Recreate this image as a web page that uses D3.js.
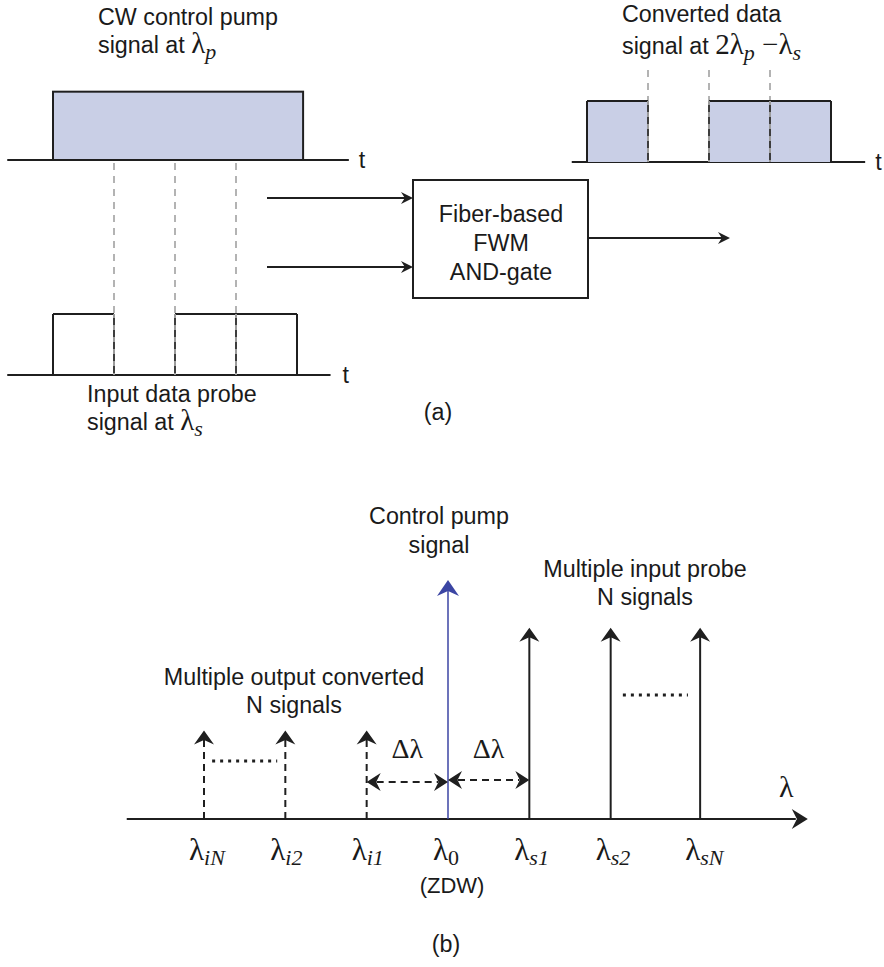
<!DOCTYPE html>
<html>
<head>
<meta charset="utf-8">
<script src="https://cdn.jsdelivr.net/npm/d3@7"></script>
<style>
  body { margin: 0; background: #fff; }
  text { font-family: "Liberation Sans", Arial, sans-serif; font-size: 23.3px; fill: #1a1a1a; }
  .math { font-family: "Liberation Serif", "DejaVu Serif", serif; }
</style>
</head>
<body>
<svg width="884" height="967"></svg>
<script>
// ---- data ----
// (a) time slots, one bit per slot
var inputBits = [1, 0, 1, 1];
var outputBits = [1, 0, 1, 1];
var pumpSpan = [0, 4.1];
var pumpLevel = 1.12;
var slotEdges = [1, 2, 3];

// (b) spectrum: channel positions (in units of delta lambda) and heights
var channelSub = ["iN", "i2", "i1", "0", "s1", "s2", "sN"];
var channelPos = [-3, -2, -1, 0, 1, 2, 3.1];
var channelAmp = [0.37, 0.37, 0.37, 1, 0.8, 0.8, 0.8];
var channelKind = ["idler", "idler", "idler", "pump", "probe", "probe", "probe"];

var svg = d3.select("svg");
var dark = "#1f1f1f";
var grey = "#9b9b9b";
var fill = "#c9cfe6";
var blue = "#3b45a3";

// arrowhead pointing along angle (deg), tip at (x,y)
function arrowHead(g, x, y, angle, color, len, half) {
  len = len || 13; half = half || 8;
  g.append("path")
    .attr("d", "M0,0 L" + (-len) + "," + (-half) + " L" + (-len * 0.68) + ",0 L" + (-len) + "," + half + " Z")
    .attr("transform", "translate(" + x + "," + y + ") rotate(" + angle + ")")
    .attr("fill", color);
}

// ---------- (a) ----------
var t = d3.scaleLinear().domain([0, 4]).range([53, 297]);
var level = d3.scaleLinear().domain([0, 1]).range([0, -61]);

function pulses(g, bits, filled) {
  var spans = [];
  bits.forEach(function(b, i) { if (b) spans.push([i, i + 1]); });
  g.selectAll("rect.p").data(spans).enter().append("rect")
    .attr("class", "p")
    .attr("x", function(d) { return t(d[0]); })
    .attr("width", function(d) { return t(d[1]) - t(d[0]); })
    .attr("y", level(1))
    .attr("height", -level(1))
    .attr("fill", filled ? fill : "none");
  spans.forEach(function(d) {
    g.append("line").attr("x1", t(d[0])).attr("x2", t(d[1]))
      .attr("y1", level(1)).attr("y2", level(1))
      .attr("stroke", dark).attr("stroke-width", 2);
    [d[0], d[1]].forEach(function(e) {
      if (slotEdges.indexOf(e) >= 0) {
        g.append("line").attr("x1", t(e)).attr("x2", t(e))
          .attr("y1", level(1)).attr("y2", 0)
          .attr("stroke", grey).attr("stroke-width", 2);
        g.append("line").attr("x1", t(e)).attr("x2", t(e))
          .attr("y1", level(1) + 4).attr("y2", 0)
          .attr("stroke", dark).attr("stroke-width", 1.5)
          .attr("stroke-dasharray", "7,5");
      } else {
        g.append("line").attr("x1", t(e)).attr("x2", t(e))
          .attr("y1", level(1)).attr("y2", 0)
          .attr("stroke", dark).attr("stroke-width", 2);
      }
    });
  });
}

function baseline(g, from, to, labelX) {
  g.append("line").attr("x1", t(from)).attr("x2", t(to))
    .attr("y1", 0).attr("y2", 0)
    .attr("stroke", dark).attr("stroke-width", 2);
  g.append("text").attr("x", t(to) + labelX).attr("y", 8).text("t");
}

// pump (top left)
var gPump = svg.append("g").attr("transform", "translate(0,160)");
gPump.append("rect")
  .attr("x", t(pumpSpan[0])).attr("width", t(pumpSpan[1]) - t(pumpSpan[0]))
  .attr("y", level(pumpLevel)).attr("height", -level(pumpLevel))
  .attr("fill", fill).attr("stroke", dark).attr("stroke-width", 2);
baseline(gPump, -0.75, 4.85, 10);

// grey slot guides between pump and probe
svg.append("g").selectAll("line").data(slotEdges).enter().append("line")
  .attr("x1", function(d) { return t(d); }).attr("x2", function(d) { return t(d); })
  .attr("y1", 163).attr("y2", 375 + level(1))
  .attr("stroke", grey).attr("stroke-width", 1.5).attr("stroke-dasharray", "7,6");

// input probe (bottom left)
var gProbe = svg.append("g").attr("transform", "translate(0,375)");
baseline(gProbe, -0.75, 4.55, 12);
pulses(gProbe, inputBits, false);

// converted output (top right)
var gOut = svg.append("g").attr("transform", "translate(534,162)");
gOut.selectAll("line.guide").data(slotEdges).enter().append("line")
  .attr("class", "guide")
  .attr("x1", function(d) { return t(d); }).attr("x2", function(d) { return t(d); })
  .attr("y1", -92).attr("y2", level(1))
  .attr("stroke", grey).attr("stroke-width", 1.5).attr("stroke-dasharray", "7,6");
baseline(gOut, -0.25, 4.56, 10);
pulses(gOut, outputBits, true);

// gate box and arrows
svg.append("rect").attr("x", 413).attr("y", 180).attr("width", 175).attr("height", 118)
  .attr("fill", "#fff").attr("stroke", dark).attr("stroke-width", 2);
[198, 267].forEach(function(y) {
  svg.append("line").attr("x1", 267).attr("x2", 405).attr("y1", y).attr("y2", y)
    .attr("stroke", dark).attr("stroke-width", 2);
  arrowHead(svg, 413, y, 0, dark, 12, 6);
});
svg.append("line").attr("x1", 588).attr("x2", 722).attr("y1", 238).attr("y2", 238)
  .attr("stroke", dark).attr("stroke-width", 2);
arrowHead(svg, 730, 238, 0, dark, 12, 6);

svg.selectAll("text.box").data(["Fiber-based", "FWM", "AND-gate"]).enter().append("text")
  .attr("class", "box").attr("x", 501).attr("y", function(d, i) { return 222 + i * 29; })
  .attr("text-anchor", "middle").text(function(d) { return d; });

// captions (a)
function sub(el, main, s, mainSize, subSize) {
  el.append("tspan").attr("class", "math").style("font-size", mainSize + "px").text(main);
  el.append("tspan").attr("class", "math").style("font-size", subSize + "px")
    .style("font-style", "italic").attr("dy", 6).text(s);
}
svg.append("text").attr("x", 98).attr("y", 25).text("CW control pump");
var l1 = svg.append("text").attr("x", 98).attr("y", 53).text("signal at ");
sub(l1, "λ", "p", 29, 22);

svg.append("text").attr("x", 622).attr("y", 22).text("Converted data");
var l2 = svg.append("text").attr("x", 622).attr("y", 54).text("signal at ");
l2.append("tspan").attr("class", "math").style("font-size", "29px").text("2λ");
l2.append("tspan").attr("class", "math").style("font-size", "22px").style("font-style", "italic").attr("dy", 6).text("p");
l2.append("tspan").attr("class", "math").style("font-size", "29px").attr("dy", -6).text(" −λ");
l2.append("tspan").attr("class", "math").style("font-size", "22px").style("font-style", "italic").attr("dy", 6).text("s");

svg.append("text").attr("x", 87).attr("y", 402).text("Input data probe");
var l3 = svg.append("text").attr("x", 87).attr("y", 430).text("signal at ");
sub(l3, "λ", "s", 29, 22);

svg.append("text").attr("x", 438).attr("y", 420).attr("text-anchor", "middle").text("(a)");

// ---------- (b) ----------
var x = d3.scaleLinear().domain([-3, 3]).range([204, 692]);
var y = d3.scaleLinear().domain([0, 1]).range([819, 580]);

var channels = channelSub.map(function(s, i) {
  return { sub: s, pos: channelPos[i], amp: channelAmp[i], kind: channelKind[i] };
});

// axis
svg.append("line").attr("x1", x(-3.95)).attr("x2", x(4.35) - 6)
  .attr("y1", y(0)).attr("y2", y(0)).attr("stroke", dark).attr("stroke-width", 2);
arrowHead(svg, x(4.35) + 6, y(0), 0, dark, 16, 10);
svg.append("text").attr("class", "math").attr("x", 779).attr("y", 797)
  .style("font-size", "30px").text("λ");

// spectral lines
var gSpec = svg.append("g");
channels.forEach(function(d) {
  var col = d.kind === "pump" ? blue : dark;
  gSpec.append("line")
    .attr("x1", x(d.pos)).attr("x2", x(d.pos))
    .attr("y1", y(0)).attr("y2", y(d.amp) + 8)
    .attr("stroke", col)
    .attr("stroke-width", d.kind === "pump" ? 1.5 : 2)
    .attr("stroke-dasharray", d.kind === "idler" ? "7,5" : null);
  arrowHead(gSpec, x(d.pos), y(d.amp), -90, col, d.kind === "pump" ? 16 : 14, d.kind === "pump" ? 11 : 10);

  var lab = gSpec.append("text").attr("x", x(d.pos) - 15).attr("y", 860);
  lab.append("tspan").attr("class", "math").style("font-size", "31px").text("λ");
  lab.append("tspan").attr("class", "math").style("font-size", "22px")
    .style("font-style", d.sub === "0" ? "normal" : "italic").attr("dy", 5).text(d.sub);
});

// dotted "..." between channel groups
svg.append("line").attr("x1", x(-2.9)).attr("x2", x(-2.1)).attr("y1", 761).attr("y2", 761)
  .attr("stroke", dark).attr("stroke-width", 3).attr("stroke-dasharray", "3,5");
svg.append("line").attr("x1", x(2.15)).attr("x2", x(2.95)).attr("y1", 695).attr("y2", 695)
  .attr("stroke", dark).attr("stroke-width", 3).attr("stroke-dasharray", "3,5");

// delta lambda double arrows
[[-1, 0, 782], [0, 1, 780]].forEach(function(d) {
  svg.append("line").attr("x1", x(d[0]) + 10).attr("x2", x(d[1]) - 10)
    .attr("y1", d[2]).attr("y2", d[2])
    .attr("stroke", dark).attr("stroke-width", 2).attr("stroke-dasharray", "7,5");
  arrowHead(svg, x(d[0]), d[2], 180, dark, 14, 9);
  arrowHead(svg, x(d[1]), d[2], 0, dark, 14, 9);
  svg.append("text").attr("class", "math").attr("x", (x(d[0]) + x(d[1])) / 2).attr("y", 758)
    .attr("text-anchor", "middle").style("font-size", "28px").text("Δλ");
});

svg.append("text").attr("x", 452).attr("y", 893).attr("text-anchor", "middle")
  .style("font-size", "22px").text("(ZDW)");

svg.selectAll("text.pl").data(["Control pump", "signal"]).enter().append("text")
  .attr("x", 439).attr("y", function(d, i) { return 524 + i * 29; })
  .attr("text-anchor", "middle").text(function(d) { return d; });
svg.selectAll("text.ol").data(["Multiple output converted", "N signals"]).enter().append("text")
  .attr("x", 294).attr("y", function(d, i) { return 685 + i * 28; })
  .attr("text-anchor", "middle").text(function(d) { return d; });
svg.selectAll("text.il").data(["Multiple input probe", "N signals"]).enter().append("text")
  .attr("x", 645).attr("y", function(d, i) { return 577 + i * 28; })
  .attr("text-anchor", "middle").text(function(d) { return d; });

svg.append("text").attr("x", 446).attr("y", 952).attr("text-anchor", "middle").text("(b)");
</script>
</body>
</html>
